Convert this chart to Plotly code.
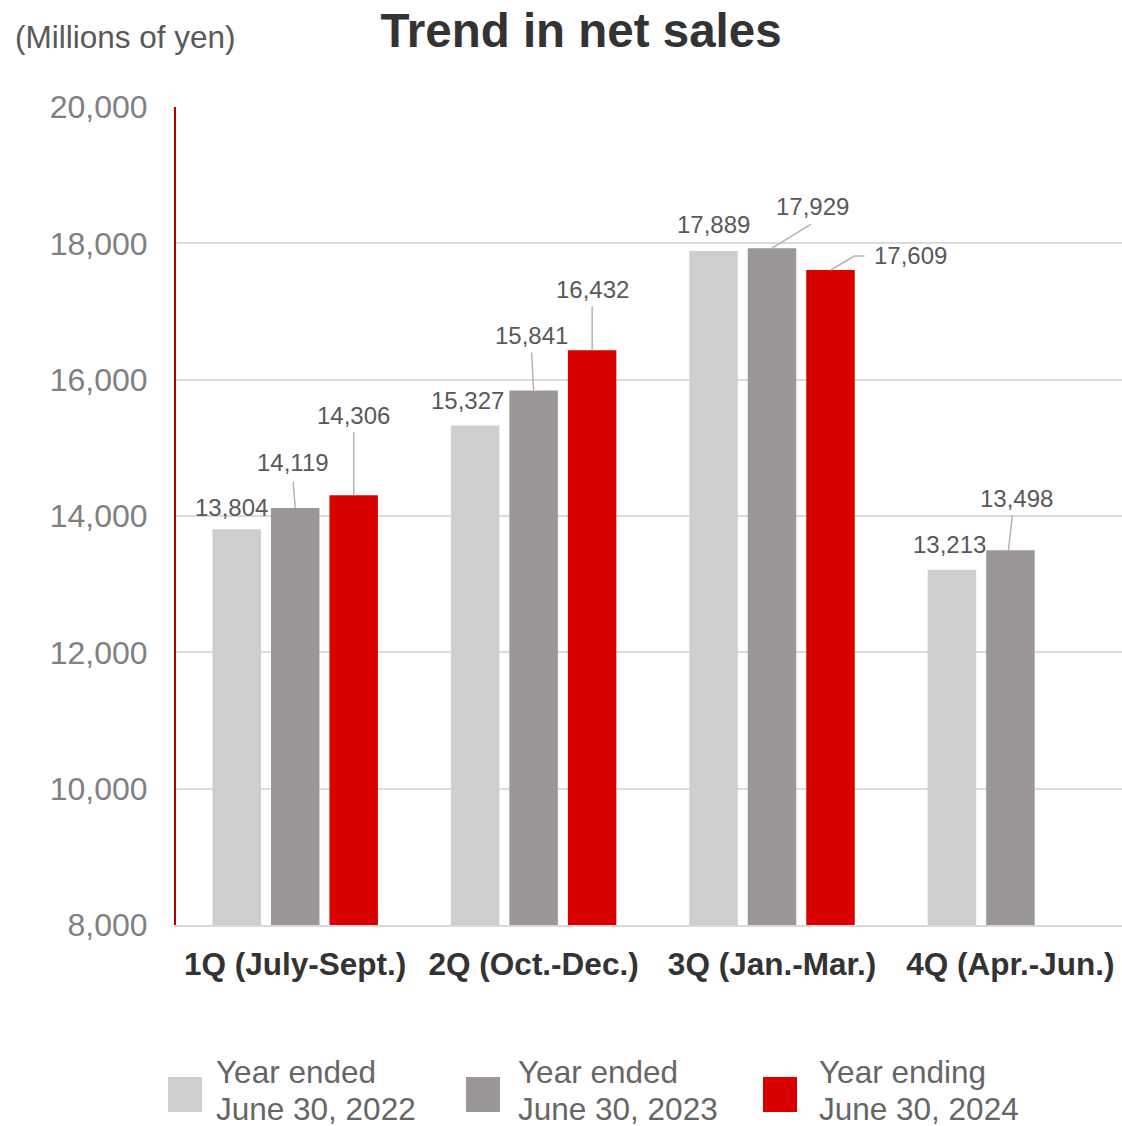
import plotly.graph_objects as go

# ---- data ----
categories = ["1Q (July-Sept.)", "2Q (Oct.-Dec.)", "3Q (Jan.-Mar.)", "4Q (Apr.-Jun.)"]
series_names = ["Year ended<br>June 30, 2022", "Year ended<br>June 30, 2023", "Year ending<br>June 30, 2024"]
sales_fy2022 = [13804, 15327, 17889, 13213]
sales_fy2023 = [14119, 15841, 17929, 13498]
sales_fy2024 = [14306, 16432, 17609, None]
y_ticks = [8000, 10000, 12000, 14000, 16000, 18000, 20000]

series_values = [sales_fy2022, sales_fy2023, sales_fy2024]
colors = ["#CFCDCD", "#9B9796", "#D90000"]

FONT = "Liberation Sans, Arial, sans-serif"
LABEL_COLOR = "#595959"
LEADER = "#B4B4B4"

# label placement (pixel offsets of text centre from bar top, up positive)
label_offsets = {
    (0, 0): (-5, 22), (0, 1): (-8, 25), (0, 2): (0, 26), (0, 3): (-2, 25),
    (1, 0): (-2, 45), (1, 1): (-2, 55), (1, 2): (40, 42), (1, 3): (6, 52),
    (2, 0): (0, 80), (2, 1): (0, 61), (2, 2): (80, 14),
}
# leader lines as pixel paths from the bar top
leaders = {
    (1, 0): "M0,0 L-2,26",
    (1, 1): "M0,0 L-2,38",
    (1, 2): "M0,0 L39,24",
    (1, 3): "M-2,0 L2,35",
    (2, 0): "M0,0 L0,63",
    (2, 1): "M0,0 L0,44",
    (2, 2): "M0,0 L24,14 L34,14",
}

# plot area in pixels
L, R, T, B = 176, 1122, 107, 925
W, H = 1122, 1126
slot = 0.2455  # group slot width in category units


def px(x):
    return (x - L) / (R - L)


def py(y):
    return (B - y) / (B - T)


fig = go.Figure()
for s, (name, vals, col) in enumerate(zip(series_names, series_values, colors)):
    fig.add_trace(go.Bar(
        x=list(range(len(categories))), y=vals, name=name,
        marker=dict(color=col, line=dict(width=0)), showlegend=False,
        hoverinfo="skip",
    ))

annotations = []
shapes = []
for s, vals in enumerate(series_values):
    for q, v in enumerate(vals):
        if v is None:
            continue
        xc = q + (s - 1) * slot
        dx, dy = label_offsets[(s, q)]
        annotations.append(dict(
            x=xc, y=v, xref="x", yref="y", text=f"{v:,}", showarrow=False,
            xshift=dx, yshift=dy, xanchor="center", yanchor="middle",
            font=dict(family=FONT, size=24, color=LABEL_COLOR),
        ))
        if (s, q) in leaders:
            shapes.append(dict(
                type="path", xref="x", yref="y", xsizemode="pixel", ysizemode="pixel",
                xanchor=xc, yanchor=v, path=leaders[(s, q)],
                line=dict(color=LEADER, width=1.5), layer="above",
            ))

# unit label
annotations.append(dict(
    x=px(13), y=py(37), xref="paper", yref="paper", text="(Millions of yen)",
    showarrow=False, xanchor="left", yanchor="middle",
    font=dict(family=FONT, size=31.5, color=LABEL_COLOR),
))

# manual legend
legend_sq_x = [168, 466, 763]
legend_tx_x = [214, 516, 817]
for name, col, lx, tx in zip(series_names, colors, legend_sq_x, legend_tx_x):
    shapes.append(dict(
        type="rect", xref="paper", yref="paper",
        x0=px(lx), x1=px(lx + 34), y0=py(1112), y1=py(1077),
        fillcolor=col, line=dict(width=0),
    ))
    for line_txt, ly in zip(name.split("<br>"), [1072, 1109]):
        annotations.append(dict(
            x=px(tx), y=py(ly), xref="paper", yref="paper", text=line_txt,
            showarrow=False, xanchor="left", yanchor="middle", align="left",
            font=dict(family=FONT, size=31.5, color="#666666"),
        ))

fig.update_layout(
    width=W, height=H,
    margin=dict(l=L, r=W - R, t=T, b=H - B, pad=0),
    paper_bgcolor="white", plot_bgcolor="white",
    barmode="group", bargap=0.264, bargroupgap=0.171,
    title=dict(text="<b>Trend in net sales</b>", x=581 / W, xanchor="center",
               y=1 - 30 / H, yanchor="middle", xref="container", yref="container",
               font=dict(family=FONT, size=47.5, color="#333333")),
    xaxis=dict(
        range=[-0.5, 3.468], tickmode="array", tickvals=list(range(len(categories))),
        ticktext=[f"<b>{c}</b>" for c in categories],
        tickfont=dict(family=FONT, size=31.5, color="#333333"),
        showgrid=False, showline=True, linecolor="#D9D9D9", linewidth=1.5,
        ticks="", ticklabelstandoff=10, zeroline=False,
    ),
    yaxis=dict(
        range=[8000, 20000], tickmode="array", tickvals=y_ticks,
        tickformat=",", tickfont=dict(family=FONT, size=32, color="#808080"),
        showgrid=True, gridcolor="#DCDCDC", gridwidth=1.5,
        showline=True, linecolor="#B00000", linewidth=2,
        ticks="", ticklabelstandoff=20, zeroline=False,
    ),
    annotations=annotations, shapes=shapes,
)

fig.write_html("out.html")
